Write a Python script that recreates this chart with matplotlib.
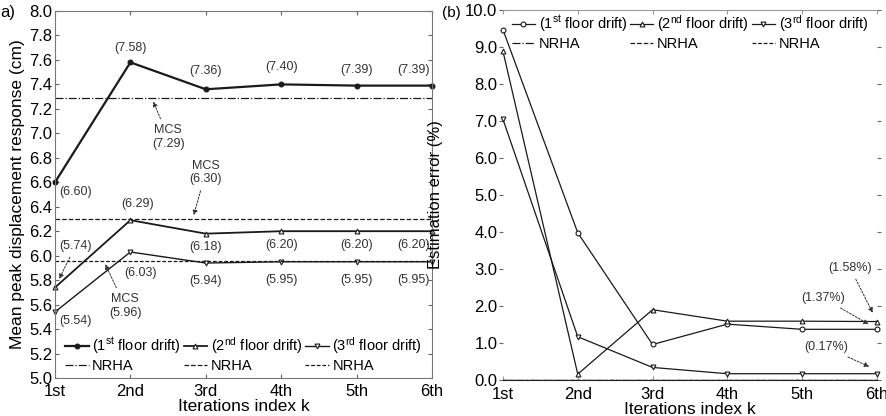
import numpy as np
import matplotlib
matplotlib.use("Agg")
import matplotlib.pyplot as plt

plt.rcParams['font.family'] = ['Liberation Sans', 'DejaVu Sans']
plt.rcParams['mathtext.fontset'] = 'custom'
plt.rcParams['mathtext.rm'] = 'Liberation Sans'
plt.rcParams['mathtext.it'] = 'Liberation Sans'

# data
iters = [1, 2, 3, 4, 5, 6]
iter_labels = ["1st", "2nd", "3rd", "4th", "5th", "6th"]
disp_floor1 = [6.60, 7.58, 7.36, 7.40, 7.39, 7.39]
disp_floor2 = [5.74, 6.29, 6.18, 6.20, 6.20, 6.20]
disp_floor3 = [5.54, 6.03, 5.94, 5.95, 5.95, 5.95]
mcs_values = [7.29, 6.30, 5.96]
err_floor1 = [9.47, 3.98, 0.96, 1.51, 1.37, 1.37]
err_floor2 = [8.89, 0.16, 1.90, 1.59, 1.59, 1.58]
err_floor3 = [7.05, 1.17, 0.34, 0.17, 0.17, 0.17]

series_labels = [r"(1$^{st}$ floor drift)", r"(2$^{nd}$ floor drift)", r"(3$^{rd}$ floor drift)"]
markers = ["o", "^", "v"]
nrha_styles = ["-.", "--", (0, (3, 1.5))]

fig = plt.figure(figsize=(8.87, 4.16), dpi=100)
ax1 = fig.add_axes([0.062, 0.0913, 0.425, 0.8823])
ax2 = fig.add_axes([0.567, 0.0865, 0.4217, 0.8895])

# ---- panel (a)
dark = "#1a1a1a"
lws = [1.6, 1.3, 1.0]
handles = []
for d, m, lw, lab, ns, mcs in zip([disp_floor1, disp_floor2, disp_floor3], markers, lws,
                                   series_labels, nrha_styles, mcs_values):
    h, = ax1.plot(iters, d, color=dark, lw=lw, marker=m, ms=3.5,
                  mfc=dark if m == "o" else "white", mec=dark, mew=0.8,
                  clip_on=False, label=lab)
    n, = ax1.plot([1, 6], [mcs, mcs], color=dark, lw=0.9, ls=ns, label="NRHA")
    handles += [h, n]

lab_kw = dict(fontsize=9, color="#333333", ha="center", va="center")
# value labels 1st floor
for x, v, dy in zip(iters[1:], disp_floor1[1:], [0.12, 0.15, 0.14, 0.13, 0.13]):
    xx = x if x < 6 else 5.75
    ax1.text(xx, v + dy, "(%.2f)" % v, **lab_kw)
ax1.text(1.27, 6.52, "(%.2f)" % disp_floor1[0], **lab_kw)
# 2nd floor
ax1.text(2.1, disp_floor2[1] + 0.13, "(%.2f)" % disp_floor2[1], **lab_kw)
for x, v in zip(iters[2:], disp_floor2[2:]):
    xx = x if x < 6 else 5.75
    ax1.text(xx, v - 0.11, "(%.2f)" % v, **lab_kw)
# 3rd floor
ax1.text(1.27, 5.47, "(%.2f)" % disp_floor3[0], **lab_kw)
ax1.text(2.13, disp_floor3[1] - 0.17, "(%.2f)" % disp_floor3[1], **lab_kw)
for x, v in zip(iters[2:], disp_floor3[2:]):
    xx = x if x < 6 else 5.75
    ax1.text(xx, v - 0.15, "(%.2f)" % v, **lab_kw)

arr = dict(arrowstyle="-|>", color="#333333", lw=0.7, ls=(0, (2, 1.5)), mutation_scale=7)
ax1.annotate("(%.2f)" % disp_floor2[0], xy=(1.04, 5.79), xytext=(1.27, 6.08),
             arrowprops=arr, **lab_kw)
ax1.annotate("MCS\n(%.2f)" % mcs_values[0], xy=(2.29, 7.28), xytext=(2.5, 6.97),
             arrowprops=arr, **lab_kw)
ax1.annotate("MCS\n(%.2f)" % mcs_values[1], xy=(2.83, 6.31), xytext=(3.0, 6.68),
             arrowprops=arr, **lab_kw)
ax1.annotate("MCS\n(%.2f)" % mcs_values[2], xy=(1.65, 5.95), xytext=(1.93, 5.59),
             arrowprops=arr, **lab_kw)

ax1.set_xlim(1, 6)
ax1.set_ylim(5.0, 8.0)
ax1.set_yticks(np.arange(5.0, 8.01, 0.2))
ax1.set_yticklabels(["%.1f" % t for t in np.arange(5.0, 8.01, 0.2)])
ax1.set_xticks(iters)
ax1.set_xticklabels(iter_labels)
ax1.tick_params(direction="in", top=True, right=True, length=3, labelsize=12, pad=2,
                color="#666666")
ax1.tick_params(axis="x", pad=4)
for s in ax1.spines.values():
    s.set_color("#777777")
    s.set_linewidth(0.8)
ax1.set_xlabel("Iterations index k", fontsize=12.5, labelpad=0)
ax1.set_ylabel("Mean peak displacement response (cm)", fontsize=12.5, labelpad=3)
ax1.legend(handles=handles, ncol=3, loc="lower left", bbox_to_anchor=(0.0, -0.015),
           frameon=False, fontsize=10.5, handlelength=1.6, handletextpad=0.25,
           columnspacing=0.2, labelspacing=0.2, borderaxespad=0.3)
fig.text(0.0, 0.97, "a)", fontsize=12, va="center")

# ---- panel (b)
handles2 = []
for e, m, lab, ns in zip([err_floor1, err_floor2, err_floor3], markers, series_labels, nrha_styles):
    h, = ax2.plot(iters, e, color=dark, lw=0.9, marker=m, ms=3.5, mfc="white", mec=dark,
                  mew=0.8, clip_on=False, label=lab)
    n, = ax2.plot([1, 6], [0, 0], color=dark, lw=0.9, ls=ns, label="NRHA")
    handles2 += [h, n]

ax2.annotate("(%.2f%%)" % err_floor2[-1], xy=(5.96, 1.75), xytext=(5.64, 3.03),
             arrowprops=arr, **lab_kw)
ax2.annotate("(%.2f%%)" % err_floor1[-1], xy=(5.92, 1.47), xytext=(5.28, 2.22),
             arrowprops=arr, **lab_kw)
ax2.annotate("(%.2f%%)" % err_floor3[-1], xy=(5.93, 0.33), xytext=(5.32, 0.89),
             arrowprops=arr, **lab_kw)

ax2.set_xlim(1, 6)
ax2.set_ylim(0, 10)
ax2.set_yticks(np.arange(0, 10.1, 1.0))
ax2.set_yticklabels(["%.1f" % t for t in np.arange(0, 10.1, 1.0)])
ax2.set_xticks(iters)
ax2.set_xticklabels(iter_labels)
ax2.tick_params(axis="y", direction="out", left=True, right=True, length=3, labelsize=12,
                pad=1, color="#666666")
ax2.tick_params(axis="x", direction="in", top=True, length=3, labelsize=12, pad=5,
                color="#999999")
ax2.spines["left"].set_visible(False)
ax2.spines["right"].set_visible(False)
ax2.spines["top"].set_color("#999999")
ax2.spines["top"].set_linewidth(0.8)
ax2.spines["bottom"].set_color("#222222")
ax2.set_xlabel("Iterations index k", fontsize=12.5, labelpad=0)
ax2.set_ylabel("Estimation error (%)", fontsize=12, labelpad=16)
ax2.legend(handles=handles2, ncol=3, loc="upper right", bbox_to_anchor=(1.0, 1.015),
           frameon=False, fontsize=10.5, handlelength=1.6, handletextpad=0.25,
           columnspacing=0.2, labelspacing=0.2, borderaxespad=0.2)
fig.text(0.498, 0.968, "(b)", fontsize=11, va="center")

fig.savefig("out.png", dpi=100)
